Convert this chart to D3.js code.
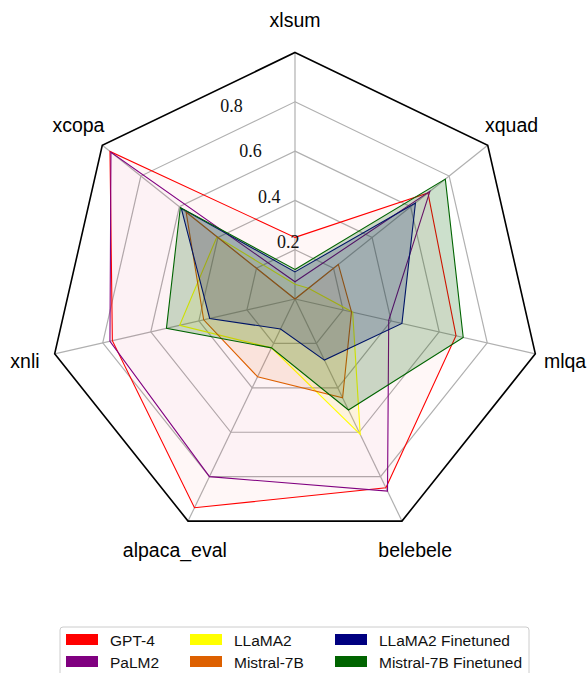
<!DOCTYPE html>
<html>
<head>
<meta charset="utf-8">
<script src="https://cdn.jsdelivr.net/npm/d3@7"></script>
<style>
  body { margin: 0; background: #fff; }
  .axis-label { font-family: "Liberation Sans", Arial, sans-serif; font-size: 19.5px; fill: #000; }
  .tick-label { font-family: "Liberation Serif", "Times New Roman", serif; font-size: 18px; fill: #111; }
  .legend text { font-family: "Liberation Sans", Arial, sans-serif; font-size: 15.5px; fill: #111; }
</style>
</head>
<body>
<svg id="chart" width="587" height="673"></svg>
<script>
var axes = ["xlsum", "xquad", "mlqa", "belebele", "alpaca_eval", "xnli", "xcopa"];
var ticks = [0.2, 0.4, 0.6, 0.8];

var models = ["GPT-4", "PaLM2", "LLaMA2", "Mistral-7B", "LLaMA2 Finetuned", "Mistral-7B Finetuned"];
var colors = ["#ff0000", "#800080", "#ffff00", "#dd6000", "#000080", "#006400"];
var fills = [0.03, 0.02, 0.1, 0.1, 0.2, 0.2];

var gpt4      = [0.25, 0.69, 0.67, 0.85, 0.94, 0.76, 0.96];
var palm2     = [0.07, 0.70, 0.39, 0.865, 0.80, 0.77, 0.955];
var llama2    = [0.06, 0.07, 0.24, 0.61, 0.22, 0.48, 0.405];
var mistral   = [0.0, 0.225, 0.235, 0.445, 0.35, 0.38, 0.565];
var llama2Ft  = [0.11, 0.625, 0.445, 0.275, 0.135, 0.355, 0.59];
var mistralFt = [0.12, 0.78, 0.70, 0.50, 0.22, 0.535, 0.595];
var series = [gpt4, palm2, llama2, mistral, llama2Ft, mistralFt];

var svg = d3.select("#chart"),
    cx = 295, cy = 299;

var r = d3.scaleLinear().domain([0, 1]).range([0, 246.5]);
var angle = d3.scaleLinear().domain([0, axes.length]).range([0, 2 * Math.PI]);

var g = svg.append("g").attr("transform", "translate(" + cx + "," + cy + ")");

var ring = d3.lineRadial()
    .angle(function(d, i) { return angle(i); })
    .radius(function(d) { return r(d); })
    .curve(d3.curveLinearClosed);

function point(i, v) {
  var a = angle(i);
  return [r(v) * Math.sin(a), -r(v) * Math.cos(a)];
}

// grid rings
g.selectAll(".grid")
    .data(ticks)
  .enter().append("path")
    .attr("class", "grid")
    .attr("d", function(t) { return ring(axes.map(function() { return t; })); })
    .attr("fill", "none")
    .attr("stroke", "#b0b0b0")
    .attr("stroke-width", 1.2);

// spokes
g.selectAll(".spoke")
    .data(axes)
  .enter().append("line")
    .attr("class", "spoke")
    .attr("x1", 0).attr("y1", 0)
    .attr("x2", function(d, i) { return point(i, 1)[0]; })
    .attr("y2", function(d, i) { return point(i, 1)[1]; })
    .attr("stroke", "#b0b0b0")
    .attr("stroke-width", 1.2);

// series
g.selectAll(".series")
    .data(series)
  .enter().append("path")
    .attr("class", "series")
    .attr("d", ring)
    .attr("fill", function(d, i) { return colors[i]; })
    .attr("fill-opacity", function(d, i) { return fills[i]; })
    .attr("stroke", function(d, i) { return colors[i]; })
    .attr("stroke-width", 1.1)
    .attr("stroke-linejoin", "miter");

// frame
g.append("path")
    .attr("d", ring(axes.map(function() { return 1; })))
    .attr("fill", "none")
    .attr("stroke", "#000")
    .attr("stroke-width", 1.6);

// tick labels along a line tilted 22.5 degrees left of the top axis
var tilt = -22.5 * Math.PI / 180;
g.selectAll(".tick-label")
    .data(ticks)
  .enter().append("text")
    .attr("class", "tick-label")
    .attr("x", function(t) { return r(t) * Math.sin(tilt) + 12; })
    .attr("y", function(t) { return -r(t) * Math.cos(tilt) - 11; })
    .attr("text-anchor", "middle")
    .attr("dominant-baseline", "central")
    .text(function(t) { return t.toFixed(1); });

// axis labels
g.selectAll(".axis-label")
    .data(axes)
  .enter().append("text")
    .attr("class", "axis-label")
    .attr("x", function(d, i) { return 277 * Math.sin(angle(i)); })
    .attr("y", function(d, i) { return -279 * Math.cos(angle(i)); })
    .attr("text-anchor", "middle")
    .attr("dominant-baseline", "central")
    .text(function(d) { return d; });

// legend
var legend = svg.append("g").attr("class", "legend");
legend.append("rect")
    .attr("x", 60).attr("y", 627)
    .attr("width", 469).attr("height", 56)
    .attr("rx", 3)
    .attr("fill", "#fff")
    .attr("stroke", "#cccccc");

var colX = [66, 190, 335];
var item = legend.selectAll(".item")
    .data(models)
  .enter().append("g")
    .attr("class", "item")
    .attr("transform", function(d, i) {
      return "translate(" + colX[Math.floor(i / 2)] + "," + (634 + (i % 2) * 22) + ")";
    });
item.append("rect")
    .attr("width", 32).attr("height", 11)
    .attr("fill", function(d, i) { return colors[i]; });
item.append("text")
    .attr("x", 44).attr("y", 11.5)
    .text(function(d) { return d; });
</script>
</body>
</html>
